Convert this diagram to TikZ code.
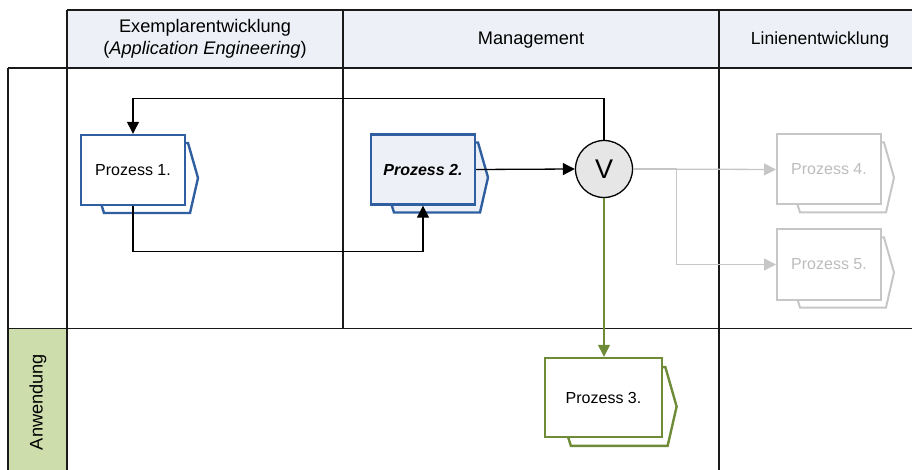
\documentclass[tikz,border=0pt]{standalone}
\usepackage{fontspec}
\setmainfont{Liberation Sans}
\usetikzlibrary{arrows.meta,calc}
\definecolor{hdrfill}{HTML}{EDF0F6}
\definecolor{anwfill}{HTML}{CDDDAC}
\definecolor{pblue}{HTML}{2F5FA0}
\definecolor{pgreen}{HTML}{6E8C37}
\definecolor{pgray}{HTML}{C6C6C6}
\definecolor{tgray}{HTML}{BDBDBD}
\definecolor{vfill}{HTML}{E6E6E6}
\definecolor{gridc}{HTML}{1A1A1A}
\newcommand\procback[3]{%
  \path[#3] ($(#1)+#2*(-30,-27)$) -- ($(#1)+#2*(55,-27)$) -- ($(#1)+#2*(65,8)$)
    -- ($(#1)+#2*(57,43)$) -- ($(#1)+#2*(-29,43)$) -- ($(#1)+#2*(-31.5,35)$);
}
\begin{document}
\begin{tikzpicture}[x=1pt,y=-1pt,
  gridline/.style={draw=gridc,line width=1.5pt},
  hdrtext/.style={font=\fontsize{18.2}{22}\selectfont,inner sep=0pt,align=center},
  procbox/.style={rectangle,minimum width=104pt,minimum height=70pt,line width=2.4pt,
    font=\fontsize{16}{19}\selectfont,line join=miter},
  backshape/.style={line width=2.4pt,line join=miter},
  arr/.style={-{Triangle[length=12pt,width=12pt]},line width=1.3pt},
]
\useasboundingbox (0,0) rectangle (912,470);
% lanes
\fill[hdrfill] (67,10) rectangle (920,68);
\fill[anwfill] (8,329) rectangle (67,475);
\draw[gridline] (67,10) -- (920,10);
\draw[gridline] (8,68) -- (920,68);
\draw[gridline] (8,328.5) -- (920,328.5);
\draw[gridline] (8,68) -- (8,475);
\draw[gridline] (67,10) -- (67,475);
\draw[gridline] (343,10) -- (343,328.5);
\draw[gridline] (719,10) -- (719,475);
% headers
\node[hdrtext] (h1) at (205,39) {Exemplarentwicklung\\(\textit{Application Engineering})};
\node[hdrtext] (h2) at (531,40) {Management};
\node[hdrtext,font=\fontsize{17.5}{22}\selectfont] (h3) at (820,40) {Linienentwicklung};
\node[hdrtext,rotate=90] (h4) at (38,402) {Anwendung};
% process centres
\coordinate (c1) at (133,170);
\coordinate (c2) at (423,169.5);
\coordinate (c3) at (603.5,397.5);
\coordinate (c4) at (829,169.5);
\coordinate (c5) at (829,264.5);
% back shapes
\procback{c1}{1}{backshape,draw=pblue,fill=white}
\procback{c2}{1}{backshape,draw=pblue,fill=hdrfill}
\procback{c3}{1.125}{backshape,draw=pgreen,fill=white}
\procback{c4}{1}{backshape,draw=pgray,fill=white,line width=2pt}
\procback{c5}{1}{backshape,draw=pgray,fill=white,line width=2pt}
% process boxes
\node[procbox,draw=pblue,fill=white] (P1) at (c1) {Prozess 1.};
\node[procbox,draw=pblue,fill=hdrfill,font=\fontsize{16}{19}\selectfont\bfseries\itshape] (P2) at (c2) {Prozess 2.};
\node[procbox,draw=pgreen,fill=white,minimum width=117pt,minimum height=79pt] (P3) at (c3) {Prozess 3.};
\node[procbox,draw=pgray,fill=white,text=tgray,line width=2pt] (P4) at (c4) {Prozess 4.};
\node[procbox,draw=pgray,fill=white,text=tgray,line width=2pt] (P5) at (c5) {Prozess 5.};
% connector
\node[circle,draw=black,fill=vfill,line width=1.3pt,minimum size=57pt,inner sep=0pt,
  font=\fontsize{27}{30}\selectfont] (V) at (604,169) {V};
% connectors
\draw[arr] (P2.east) -- (V.west);
\draw[arr] (V.north) -- ++(0,-41) -| (P1.north);
\draw[arr] (P1.south) -- ++(0,45) -| (P2.south);
\draw[arr,draw=pgreen] (V.south) -- (V.south |- P3.north);
\draw[arr,draw=pgray] (V.east) -- (P4.west);
\draw[arr,draw=pgray] (V.east) -- ++(43.5,0) |- (P5.west);
\end{tikzpicture}
\end{document}
